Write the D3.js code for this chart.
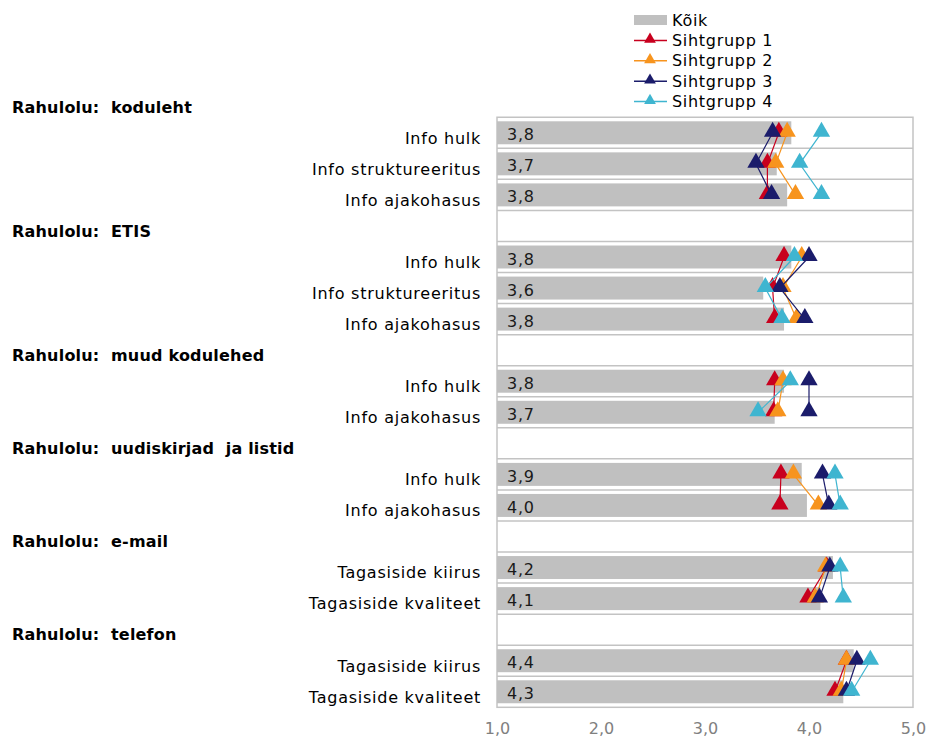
<!DOCTYPE html>
<html>
  <head>
    <meta charset="utf-8">
    <title>Rahulolu</title>
    <script src="https://cdn.jsdelivr.net/npm/d3@7"></script>
    <style>
      body { margin: 0; background: #fff; }
      svg { display: block; }
      text { font-family: "DejaVu Sans", Verdana, sans-serif; }
    </style>
  </head>
  <body>
    <div id="chart"></div>
    <script>
      // group headers and the questions under each
      var groups = ["Rahulolu:  koduleht", "Rahulolu:  ETIS", "Rahulolu:  muud kodulehed",
                    "Rahulolu:  uudiskirjad  ja listid", "Rahulolu:  e-mail", "Rahulolu:  telefon"];
      var items = [
        ["Info hulk", "Info struktureeritus", "Info ajakohasus"],
        ["Info hulk", "Info struktureeritus", "Info ajakohasus"],
        ["Info hulk", "Info ajakohasus"],
        ["Info hulk", "Info ajakohasus"],
        ["Tagasiside kiirus", "Tagasiside kvaliteet"],
        ["Tagasiside kiirus", "Tagasiside kvaliteet"]
      ];

      // values (scale 1..5)
      var koik       = [[3.83, 3.69, 3.79], [3.83, 3.56, 3.76], [3.76, 3.67], [3.93, 3.98], [4.23, 4.11], [4.43, 4.33]];
      var sihtgrupp1 = [[3.71, 3.60, 3.60], [3.76, 3.65, 3.67], [3.67, 3.66], [3.73, 3.72], [4.17, 3.99], [4.36, 4.25]];
      var sihtgrupp2 = [[3.79, 3.68, 3.87], [3.93, 3.75, 3.88], [3.75, 3.70], [3.85, 4.09], [4.16, 4.06], [4.36, 4.31]];
      var sihtgrupp3 = [[3.65, 3.49, 3.64], [4.00, 3.72, 3.96], [4.00, 4.00], [4.13, 4.19], [4.20, 4.10], [4.46, 4.36]];
      var sihtgrupp4 = [[4.12, 3.91, 4.12], [3.86, 3.58, 3.74], [3.82, 3.51], [4.25, 4.30], [4.30, 4.33], [4.59, 4.41]];

      var seriesNames = ["Sihtgrupp 1", "Sihtgrupp 2", "Sihtgrupp 3", "Sihtgrupp 4"];
      var seriesValues = [sihtgrupp1, sihtgrupp2, sihtgrupp3, sihtgrupp4];
      var seriesColors = ["#c8001e", "#f7941e", "#1b1c6b", "#3fb5d0"];
      var xTicks = [1, 2, 3, 4, 5];

      // flatten to rows: header row then item rows
      var rows = [];
      groups.forEach(function(g, gi) {
        rows.push({key: "g" + gi, header: true, label: g});
        items[gi].forEach(function(lab, ii) {
          rows.push({key: "g" + gi + "-" + ii, header: false, label: lab, gi: gi, ii: ii, value: koik[gi][ii]});
        });
      });

      var width = 928, height = 740;
      var svg = d3.select("#chart").append("svg")
        .attr("width", width).attr("height", height);

      var x = d3.scaleLinear().domain([1, 5]).range([497, 913]);
      var y = d3.scaleBand().domain(rows.map(function(d) { return d.key; })).range([86.2, 707.3]);
      var bh = y.bandwidth() * 0.74;
      var mid = function(k) { return y(k) + y.bandwidth() / 2; };

      var plotTop = y(rows[1].key), plotBottom = y.range()[1];

      // row gridlines
      svg.append("g").selectAll("line")
        .data(rows.slice(2))
        .enter().append("line")
          .attr("x1", x(1)).attr("x2", x(5))
          .attr("y1", function(d) { return y(d.key); })
          .attr("y2", function(d) { return y(d.key); })
          .attr("stroke", "#c3c3c3").attr("stroke-width", 1.5);

      svg.append("rect")
        .attr("x", x(1)).attr("y", plotTop)
        .attr("width", x(5) - x(1)).attr("height", plotBottom - plotTop)
        .attr("fill", "none").attr("stroke", "#c3c3c3").attr("stroke-width", 1.5);

      var dataRows = rows.filter(function(d) { return !d.header; });

      // bars
      svg.append("g").selectAll("rect")
        .data(dataRows)
        .enter().append("rect")
          .attr("x", x(1))
          .attr("y", function(d) { return y(d.key) + (y.bandwidth() - bh) / 2; })
          .attr("width", function(d) { return x(d.value) - x(1); })
          .attr("height", bh)
          .attr("fill", "#c0c0c0");

      // bar labels
      svg.append("g").selectAll("text")
        .data(dataRows)
        .enter().append("text")
          .attr("x", x(1) + 10)
          .attr("y", function(d) { return mid(d.key) + 7.5; })
          .attr("font-size", 16)
          .attr("letter-spacing", 0.7)
          .attr("fill", "#1a1a1a")
          .text(function(d) { return d.value.toFixed(1).replace(".", ","); });

      // category labels
      svg.append("g").selectAll("text")
        .data(rows)
        .enter().append("text")
          .attr("x", function(d) { return d.header ? 12 : 481; })
          .attr("y", function(d) { return mid(d.key) + 10.8; })
          .attr("text-anchor", function(d) { return d.header ? "start" : "end"; })
          .attr("font-size", 16)
          .attr("letter-spacing", function(d) { return d.header ? 0.2 : 0.75; })
          .attr("font-weight", function(d) { return d.header ? "bold" : "normal"; })
          .attr("fill", "#000")
          .style("white-space", "pre")
          .text(function(d) { return d.label; });

      var tri = d3.symbol().type(d3.symbolTriangle).size(130);

      // series: lines within each group + triangle markers
      seriesValues.forEach(function(vals, si) {
        var sg = svg.append("g");
        var line = d3.line()
          .x(function(d) { return x(d.v); })
          .y(function(d) { return mid(d.key); });
        groups.forEach(function(g, gi) {
          var pts = items[gi].map(function(lab, ii) { return {key: "g" + gi + "-" + ii, v: vals[gi][ii]}; });
          sg.append("path")
            .attr("d", line(pts))
            .attr("fill", "none")
            .attr("stroke", seriesColors[si])
            .attr("stroke-width", 1.2);
          sg.selectAll(null)
            .data(pts)
            .enter().append("path")
              .attr("d", tri)
              .attr("transform", function(d) {
                return "translate(" + x(d.v) + "," + (mid(d.key) - 1) + ")";
              })
              .attr("fill", seriesColors[si]);
        });
      });

      // x axis
      var xAxis = svg.append("g")
        .attr("transform", "translate(0," + (plotBottom + 12) + ")")
        .call(d3.axisBottom(x).tickValues(xTicks).tickSize(0)
          .tickFormat(function(d) { return d3.format(".1f")(d).replace(".", ","); }));
      xAxis.select(".domain").remove();
      xAxis.selectAll("text")
        .attr("font-size", 16)
        .attr("font-family", "'DejaVu Sans', Verdana, sans-serif")
        .attr("fill", "#808080");

      // legend
      var legend = svg.append("g");
      var ly = 20, lstep = 20.4;
      legend.append("rect")
        .attr("x", 634).attr("y", ly - 5).attr("width", 33).attr("height", 10)
        .attr("fill", "#c0c0c0");
      legend.append("text")
        .attr("x", 672).attr("y", ly).attr("dy", "0.35em")
        .attr("font-size", 16).attr("letter-spacing", 0.7).text("Kõik");
      seriesNames.forEach(function(name, i) {
        var yy = ly + lstep * (i + 1);
        legend.append("line")
          .attr("x1", 634).attr("x2", 667).attr("y1", yy).attr("y2", yy)
          .attr("stroke", seriesColors[i]).attr("stroke-width", 1.5);
        legend.append("path")
          .attr("d", d3.symbol().type(d3.symbolTriangle).size(60))
          .attr("transform", "translate(650," + (yy - 1) + ")")
          .attr("fill", seriesColors[i]);
        legend.append("text")
          .attr("x", 672).attr("y", yy).attr("dy", "0.35em")
          .attr("font-size", 16).attr("letter-spacing", 0.7).text(name);
      });
    </script>
  </body>
</html>
